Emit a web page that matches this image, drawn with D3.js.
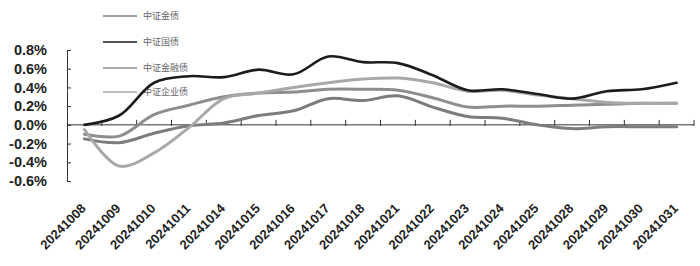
<!DOCTYPE html>
<html>
<head>
<meta charset="utf-8">
<script src="https://cdn.jsdelivr.net/npm/d3@7"></script>
<style>
  body { margin: 0; background: #fff; }
  svg { display: block; }
</style>
</head>
<body>
<div id="chart"></div>
<script>
var WIDTH = 700;
var HEIGHT = 266;

// data (percent)
var dates = ["20241008", "20241009", "20241010", "20241011", "20241014", "20241015",
  "20241016", "20241017", "20241018", "20241021", "20241022", "20241023",
  "20241024", "20241025", "20241028", "20241029", "20241030", "20241031"];

var seriesNames = ["中证金债", "中证国债", "中证金融债", "中证企业债"];

var jinzhai = [-0.15, -0.19, -0.09, -0.01, 0.02, 0.10, 0.15, 0.28, 0.26, 0.31, 0.19, 0.09, 0.07, 0.00, -0.04, -0.02, -0.02, -0.02];
var guozhai = [0.00, 0.10, 0.45, 0.52, 0.51, 0.59, 0.54, 0.73, 0.67, 0.66, 0.53, 0.37, 0.38, 0.33, 0.28, 0.36, 0.38, 0.45];
var jinrongzhai = [-0.10, -0.12, 0.11, 0.21, 0.30, 0.34, 0.35, 0.38, 0.38, 0.37, 0.29, 0.19, 0.20, 0.20, 0.21, 0.22, 0.23, 0.23];
var qiyezhai = [-0.05, -0.44, -0.30, -0.03, 0.28, 0.34, 0.40, 0.45, 0.49, 0.50, 0.45, 0.36, 0.37, 0.32, 0.28, 0.24, 0.23, 0.23];

var yTicks = [-0.6, -0.4, -0.2, 0.0, 0.2, 0.4, 0.6, 0.8];

var seriesValues = [jinzhai, guozhai, jinrongzhai, qiyezhai];
var colors = ["#7c7c7c", "#1c1c1c", "#8e8e8e", "#a8a8a8"];
var widths = [3, 2.6, 3, 3];

var margin = { top: 50, right: 6, bottom: 85, left: 67 };

var svg = d3.select("#chart").append("svg")
  .attr("width", WIDTH)
  .attr("height", HEIGHT);

var xScale = d3.scaleBand()
  .domain(dates)
  .range([margin.left, 694]);

var yScale = d3.scaleLinear()
  .domain([-0.6, 0.8])
  .range([181, 50]);

// legend (drawn underneath the lines)
var legend_g = svg.append("g");
var legendY = [16, 42, 68, 92];
seriesNames.forEach(function(name, i) {
  legend_g.append("line")
    .attr("x1", 103).attr("x2", 137)
    .attr("y1", legendY[i]).attr("y2", legendY[i])
    .attr("stroke", colors[i])
    .attr("stroke-width", 1.4);
  legend_g.append("text")
    .attr("x", 143)
    .attr("y", legendY[i])
    .attr("dy", "0.35em")
    .style("font-family", "'Noto Sans CJK SC', sans-serif")
    .style("font-size", "9px")
    .style("fill", "#666")
    .text(name);
});

// y axis
var yAxis = d3.axisLeft(yScale)
  .tickValues(yTicks)
  .tickSize(-4)
  .tickPadding(20)
  .tickFormat(function(d) { return d.toFixed(1) + "%"; });

var yAxis_g = svg.append("g")
  .attr("transform", "translate(" + margin.left + ",0)")
  .call(yAxis);
yAxis_g.select(".domain").attr("stroke", "#333");
yAxis_g.selectAll(".tick line").attr("stroke", "#333");
yAxis_g.selectAll("text")
  .style("font-family", "'Liberation Sans', Arial, sans-serif")
  .style("font-size", "14.5px")
  .style("font-weight", "bold")
  .style("fill", "#222");

// x axis at zero
var xAxis_g = svg.append("g")
  .attr("transform", "translate(0," + yScale(0) + ")");
xAxis_g.append("line")
  .attr("x1", margin.left).attr("x2", 694)
  .attr("stroke", "#333");
var bounds = dates.map(function(d) { return xScale(d) + xScale.bandwidth(); });
xAxis_g.selectAll(".xtick")
  .data(bounds)
  .enter()
  .append("line")
  .attr("class", "xtick")
  .attr("x1", function(d) { return d; })
  .attr("x2", function(d) { return d; })
  .attr("y1", -5)
  .attr("y2", 1)
  .attr("stroke", "#333");

// x labels
svg.append("g").selectAll("text")
  .data(dates)
  .enter()
  .append("text")
  .attr("transform", function(d) {
    return "translate(" + (xScale(d) + xScale.bandwidth() / 2 - 1) + ",206) rotate(-45)";
  })
  .attr("text-anchor", "end")
  .attr("dy", "0.35em")
  .style("font-family", "'Liberation Sans', Arial, sans-serif")
  .style("font-size", "13px")
  .style("font-weight", "bold")
  .style("fill", "#222")
  .text(function(d) { return d; });

// lines
var line = d3.line()
  .x(function(d, i) { return xScale(dates[i]) + xScale.bandwidth() / 2; })
  .y(function(d) { return yScale(d); })
  .curve(d3.curveCatmullRom.alpha(0.5));

var lines_g = svg.append("g");
var order = [0, 2, 3, 1];
order.forEach(function(k) {
  lines_g.append("path")
    .datum(seriesValues[k])
    .attr("d", line)
    .attr("fill", "none")
    .attr("stroke", colors[k])
    .attr("stroke-width", widths[k])
    .attr("stroke-linejoin", "round")
    .attr("stroke-linecap", "round");
});
</script>
</body>
</html>
